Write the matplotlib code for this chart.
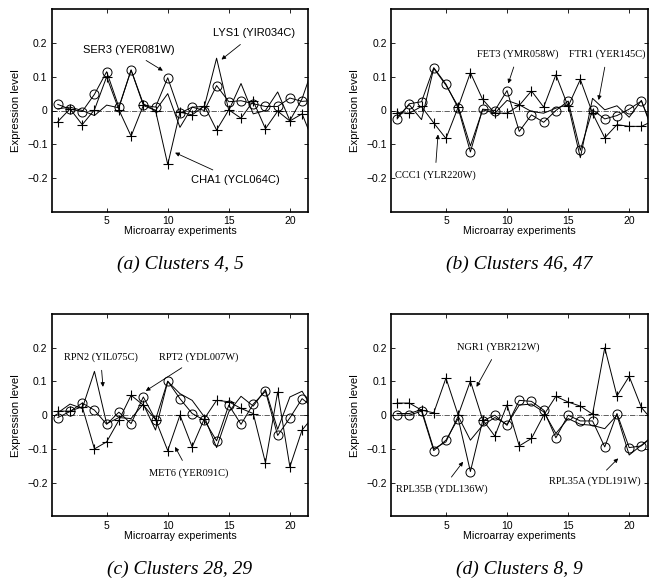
import numpy as np
import matplotlib.pyplot as plt

# ---- 1. fonts ----
plt.rcParams["font.family"] = ["Liberation Sans", "DejaVu Sans"]
plt.rcParams["axes.unicode_minus"] = True

# ---- 2. data ----
experiments = list(range(1, 23))

# (a) Clusters 4, 5
a_circle = [0.018, 0.004, -0.003, 0.048, 0.115, 0.010, 0.120, 0.016, 0.010, 0.097, -0.008,
            0.010, 0.000, 0.074, 0.026, 0.029, 0.020, 0.012, 0.012, 0.037, 0.027, 0.030]
a_plus = [-0.033, 0.005, -0.042, 0.002, 0.100, 0.002, -0.076, 0.015, 0.000, -0.160, -0.005,
          -0.013, 0.014, -0.058, 0.002, -0.023, 0.028, -0.054, -0.002, -0.031, -0.010, -0.100]
a_plain = [0.005, 0.010, 0.000, -0.015, 0.016, 0.008, 0.120, 0.020, 0.000, 0.050, -0.050,
           0.010, 0.012, 0.155, 0.000, 0.080, -0.010, 0.000, 0.055, -0.030, 0.035, 0.140]

# (b) Clusters 46, 47
b_circle = [-0.025, 0.020, 0.026, 0.127, 0.078, 0.007, -0.123, 0.004, 0.000, 0.059, -0.062,
            -0.013, -0.035, 0.000, 0.028, -0.118, 0.002, -0.025, -0.015, 0.004, 0.028, -0.060]
b_plus = [-0.006, -0.008, 0.012, -0.037, -0.083, 0.010, 0.112, 0.033, -0.008, -0.008, 0.015,
          0.058, 0.010, 0.106, 0.012, 0.092, -0.008, -0.081, -0.042, -0.047, -0.047, -0.030]
b_plain = [-0.020, 0.017, -0.027, 0.125, 0.075, 0.012, -0.105, 0.002, -0.008, 0.030, 0.017,
           -0.003, -0.008, 0.007, 0.017, -0.140, 0.036, 0.002, 0.014, -0.020, 0.030, -0.070]

# (c) Clusters 28, 29
c_circle = [-0.007, 0.011, 0.036, 0.015, -0.027, 0.009, -0.025, 0.054, -0.013, 0.101, 0.049,
            0.005, -0.015, -0.076, 0.030, -0.027, 0.033, 0.071, -0.060, -0.008, 0.049, 0.020]
c_plus = [0.012, 0.012, 0.025, -0.100, -0.079, -0.015, 0.059, 0.030, -0.013, -0.105, 0.000,
          -0.094, -0.010, 0.044, 0.040, 0.020, 0.005, -0.141, 0.069, -0.153, -0.044, 0.000]
c_plain = [0.007, 0.033, 0.020, 0.130, -0.025, -0.007, -0.010, 0.033, -0.044, 0.100, 0.064,
           0.044, -0.005, -0.096, 0.010, 0.056, 0.027, 0.076, -0.042, 0.054, 0.071, 0.010]

# (d) Clusters 8, 9
d_circle = [0.000, 0.000, 0.012, -0.105, -0.074, -0.010, -0.167, -0.017, 0.000, -0.030, 0.044,
            0.041, 0.015, -0.067, 0.000, -0.017, -0.017, -0.094, 0.005, -0.096, -0.091, -0.060]
d_plus = [0.036, 0.036, 0.015, 0.007, 0.110, 0.000, 0.101, -0.013, -0.062, 0.031, -0.091,
          -0.069, 0.000, 0.056, 0.039, 0.027, 0.003, 0.200, 0.057, 0.115, 0.023, -0.020]
d_plain = [0.005, 0.005, 0.017, -0.100, -0.079, -0.003, -0.074, -0.030, -0.007, -0.027, 0.030,
           0.033, 0.010, -0.054, -0.010, -0.027, -0.030, -0.040, 0.000, -0.118, -0.089, -0.060]

captions = ["(a) Clusters 4, 5", "(b) Clusters 46, 47",
            "(c) Clusters 28, 29", "(d) Clusters 8, 9"]

# annotations: (text, text x, text y, arrow tip x, arrow tip y)
a_notes = [("SER3 (YER081W)", 6.8, 0.180, 9.6, 0.118),
           ("LYS1 (YIR034C)", 17.1, 0.229, 14.4, 0.151),
           ("CHA1 (YCL064C)", 15.5, -0.206, 10.6, -0.125)]
b_notes = [("FET3 (YMR058W)", 10.9, 0.167, 10.1, 0.080),
           ("FTR1 (YER145C)", 18.2, 0.167, 17.5, 0.031),
           ("CCC1 (YLR220W)", 4.1, -0.193, 4.35, -0.071)]
c_notes = [("RPN2 (YIL075C)", 4.5, 0.172, 4.7, 0.084),
           ("RPT2 (YDL007W)", 12.5, 0.172, 8.2, 0.072),
           ("MET6 (YER091C)", 11.75, -0.171, 10.6, -0.094)]
d_notes = [("NGR1 (YBR212W)", 9.3, 0.202, 7.5, 0.084),
           ("RPL35B (YDL136W)", 4.7, -0.219, 6.4, -0.138),
           ("RPL35A (YDL191W)", 17.2, -0.197, 19.1, -0.128)]

panels = [
    (a_circle, a_plus, a_plain, a_notes, "sans"),
    (b_circle, b_plus, b_plain, b_notes, "serif"),
    (c_circle, c_plus, c_plain, c_notes, "serif"),
    (d_circle, d_plus, d_plain, d_notes, "serif"),
]

# ---- 3. figure ----
fig = plt.figure(figsize=(6.54, 5.83), dpi=100)
W, H = 654, 583
boxes = [(51.7, 9.3), (391, 9.3), (51.7, 314), (391, 314)]  # left, top in px
aw, ah = 256.5, 202.4

for i, (circ, plus, plain, notes, fam) in enumerate(panels):
    left, top = boxes[i]
    ax = fig.add_axes([left / W, 1 - (top + ah) / H, aw / W, ah / H])

    ax.axhline(0, color="#444444", lw=0.6, ls="-.", zorder=1)
    ax.plot(experiments, plain, color="black", lw=0.7, zorder=2)
    ax.plot(experiments, plus, color="black", lw=0.7, marker="+", ms=7,
            mew=0.8, zorder=3)
    ax.plot(experiments, circ, color="black", lw=0.7, marker="o", ms=6.5,
            mfc="none", mew=0.7, zorder=3)

    if fam == "sans":
        txt_font, txt_size = ["Liberation Sans"], 8
    else:
        txt_font, txt_size = ["Liberation Serif"], 7.5
    for label, tx, ty, px, py in notes:
        ax.annotate(label, xy=(px, py), xytext=(tx, ty),
                    ha="center", va="center", fontsize=txt_size, family=txt_font,
                    arrowprops=dict(arrowstyle="-|>", color="black", lw=0.6,
                                    mutation_scale=6, shrinkA=4, shrinkB=0))

    ax.set_xlim(0.5, 21.5)
    ax.set_ylim(-0.3, 0.3)
    ax.set_xticks([5, 10, 15, 20])
    ax.set_yticks([-0.2, -0.1, 0, 0.1, 0.2])
    ax.set_yticklabels(["\u22120.2", "\u22120.1", "0", "0.1", "0.2"])
    ax.tick_params(direction="in", top=True, right=True, length=3,
                   width=0.6, labelsize=7.5, pad=3)
    for s in ax.spines.values():
        s.set_linewidth(1.2)
    ax.set_xlabel("Microarray experiments", fontsize=7.7, labelpad=0)
    ax.set_ylabel("Expression level", fontsize=8.2)
    ax.yaxis.set_label_coords(-0.12, 0.5)

    fig.text((left + aw / 2) / W, 1 - (top + ah + 53) / H, captions[i],
             ha="center", va="center", fontsize=14, style="italic",
             family=["Liberation Serif"])

plt.savefig("out.png", dpi=100)
